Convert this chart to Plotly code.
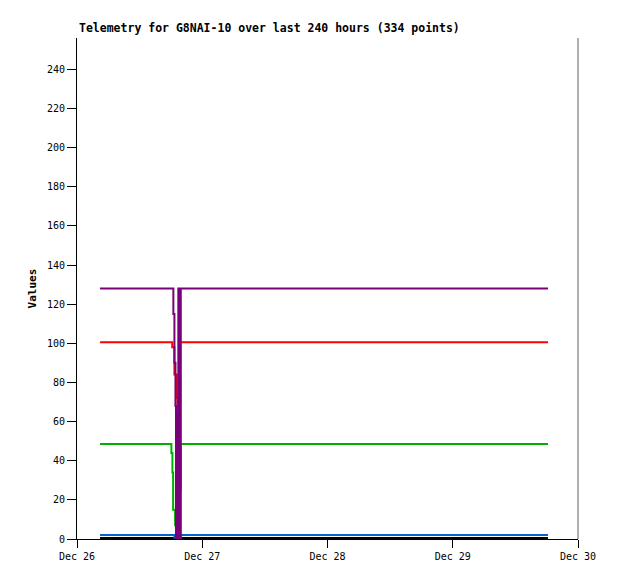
import plotly.graph_objects as go

# ---- data ----
t_start = "2023-12-26 04:25"
t_end = "2023-12-29 18:15"

purple_t = [t_start, "2023-12-26 18:28", "2023-12-26 18:40", "2023-12-26 18:52",
            "2023-12-26 18:58", "2023-12-26 19:04", "2023-12-26 19:10",
            "2023-12-26 19:16", "2023-12-26 19:20", "2023-12-26 19:25",
            "2023-12-26 19:32", "2023-12-26 19:39", "2023-12-26 19:46",
            "2023-12-26 19:53", t_end]
purple_v = [128, 115, 90, 68, 0, 64, 0, 64, 0, 128, 0, 128, 0, 128, 128]

red_t = [t_start, "2023-12-26 18:15", "2023-12-26 18:40", "2023-12-26 19:08",
         "2023-12-26 19:14", "2023-12-26 19:46", t_end]
red_v = [100.5, 98, 84, 72, 0, 100.5, 100.5]

green_t = [t_start, "2023-12-26 18:05", "2023-12-26 18:17", "2023-12-26 18:25",
           "2023-12-26 18:48", "2023-12-26 19:00", "2023-12-26 19:40",
           "2023-12-26 19:52", t_end]
green_v = [48.5, 44, 34, 15, 7, 1, 25, 48.5, 48.5]

blue_t = [t_start, "2023-12-26 18:40", "2023-12-26 19:50", t_end]
blue_v = [2.0, 0.8, 2.0, 2.0]

black_t = [t_start, t_end]
black_v = [0.5, 0.5]

x_ticks = ["2023-12-26", "2023-12-27", "2023-12-28", "2023-12-29", "2023-12-30"]
x_tick_labels = ["Dec 26", "Dec 27", "Dec 28", "Dec 29", "Dec 30"]
y_ticks = list(range(0, 241, 20))

title_text = "Telemetry for G8NAI-10 over last 240 hours (334 points)"
y_title = "Values"

FONT = "DejaVu Sans Mono"

fig = go.Figure()
series = [
    (black_t, black_v, "#000000"),
    (blue_t, blue_v, "#0066cc"),
    (green_t, green_v, "#00b000"),
    (red_t, red_v, "#ff0000"),
    (purple_t, purple_v, "#780078"),
]
for t, v, c in series:
    fig.add_trace(go.Scatter(x=t, y=v, mode="lines", line=dict(color=c, width=2, shape="hv"),
                             showlegend=False, hoverinfo="skip"))

fig.update_layout(
    width=618, height=579,
    margin=dict(l=69, r=48, t=30, b=48),
    paper_bgcolor="white", plot_bgcolor="white",
    font=dict(family=FONT, size=10, color="black"),
    showlegend=False,
    xaxis=dict(
        type="date", range=["2023-12-26", "2023-12-30"],
        tickvals=x_ticks, ticktext=x_tick_labels,
        ticks="outside", ticklen=8, tickcolor="black", tickwidth=1,
        showline=True, linecolor="black", linewidth=1,
        showgrid=False, zeroline=False,
        tickfont=dict(family=FONT, size=10),
    ),
    yaxis=dict(
        range=[0, 256], tickvals=y_ticks,
        ticks="outside", ticklen=9, tickcolor="black", tickwidth=1,
        showline=True, linecolor="black", linewidth=1,
        showgrid=False, zeroline=False,
        tickfont=dict(family=FONT, size=10),
        title=dict(text="<b>" + y_title + "</b>", font=dict(family=FONT, size=11), standoff=8),
    ),
    annotations=[dict(
        text="<b>" + title_text + "</b>", xref="paper", yref="paper",
        x=0, y=1, xanchor="left", yanchor="bottom", yshift=1, showarrow=False,
        font=dict(family=FONT, size=11.5, color="black"),
    )],
    shapes=[dict(type="line", xref="paper", yref="paper", x0=1, x1=1, y0=0, y1=1,
                 line=dict(color="#606060", width=1))],
)

fig.write_html("out.html")
